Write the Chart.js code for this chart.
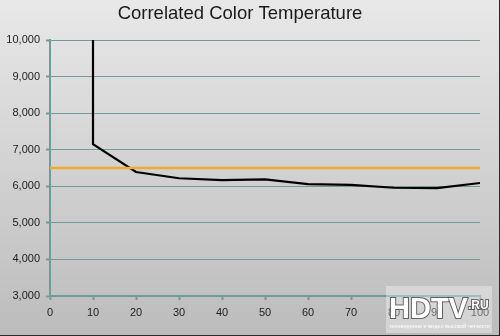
<!DOCTYPE html>
<html>
<head>
<meta charset="utf-8">
<script src="https://cdn.jsdelivr.net/npm/chart.js@4/dist/chart.umd.min.js"></script>
<style>
    html, body { margin: 0; padding: 0; }
    #wrap {
        width: 499px; height: 335px;
        background: linear-gradient(to bottom, #e8e8e8, #bcbcbc);
        border-right: 1px solid #2a2a2a;
        border-bottom: 1px solid #2a2a2a;
        position: relative;
    }
    canvas { display: block; }
</style>
</head>
<body>
<div id="wrap"><canvas id="cctChart" width="499" height="335"></canvas></div>
<script>
const ireLevels = [10, 10, 20, 30, 40, 50, 60, 70, 80, 90, 100];
const cctValues = [10000, 7150, 6390, 6220, 6170, 6190, 6060, 6040, 5960, 5950, 6090];
const targetX = [0, 100];
const targetY = [6500, 6500];
const yTicks = [3000, 4000, 5000, 6000, 7000, 8000, 9000, 10000];

const gridColor = "#6f9c98";

// small watermark like the one in the corner of the source picture
const watermark = {
    id: "watermark",
    afterDraw(chart) {
        const c = chart.ctx;
        c.save();
        c.fillStyle = "rgba(255,255,255,0.35)";
        c.fillRect(386, 286, 106, 47);
        c.textBaseline = "alphabetic";
        c.lineWidth = 2;
        c.strokeStyle = "rgba(70,70,70,0.8)";
        c.fillStyle = "#ffffff";
        c.font = "bold 29px 'Liberation Sans', Arial, sans-serif";
        c.strokeText("HDTV", 389, 318);
        c.fillText("HDTV", 389, 318);
        let w = c.measureText("HDTV").width;
        c.font = "bold 12px 'Liberation Sans', Arial, sans-serif";
        c.strokeText(".RU", 389 + w, 309);
        c.fillText(".RU", 389 + w, 309);
        c.font = "5.5px 'Liberation Sans', Arial, sans-serif";
        c.fillText("телевидение и видео высокой четкости", 389, 328);
        c.restore();
    }
};

document.addEventListener("DOMContentLoaded", function() {
    const ctx = document.getElementById("cctChart").getContext("2d");

    new Chart(ctx, {
        type: "scatter",
        data: {
            datasets: [{
                data: targetX.map((x, i) => ({ x: x, y: targetY[i] })),
                showLine: true,
                borderColor: "#f0aa2e",
                borderWidth: 2.5,
                pointRadius: 0
            }, {
                data: ireLevels.map((x, i) => ({ x: x, y: cctValues[i] })),
                showLine: true,
                borderColor: "#000000",
                borderWidth: 2.2,
                pointRadius: 0
            }]
        },
        options: {
            responsive: false,
            animation: false,
            layout: { padding: { left: 0, right: 19, top: 0, bottom: 0 } },
            plugins: {
                legend: { display: false },
                tooltip: { enabled: false },
                title: {
                    display: true,
                    text: "Correlated Color Temperature",
                    color: "#1a1a1a",
                    font: { family: "'Liberation Sans', Arial, sans-serif", size: 18.5, weight: "normal" },
                    padding: { top: 3, bottom: 14.8 }
                }
            },
            scales: {
                x: {
                    type: "linear",
                    min: 0,
                    max: 100,
                    ticks: {
                        stepSize: 10,
                        color: "#222",
                        padding: 6,
                        font: { family: "'Liberation Sans', Arial, sans-serif", size: 11 }
                    },
                    grid: { display: true, drawOnChartArea: false, color: gridColor, tickLength: 4, tickWidth: 2 },
                    border: { color: gridColor, width: 2 },
                    afterFit: function(scale) { scale.height = 39; }
                },
                y: {
                    min: 3000,
                    max: 10000,
                    afterBuildTicks: function(scale) { scale.ticks = yTicks.map(v => ({ value: v })); },
                    ticks: {
                        color: "#222",
                        padding: 6,
                        font: { family: "'Liberation Sans', Arial, sans-serif", size: 11 },
                        callback: v => v.toLocaleString("en-US")
                    },
                    grid: { color: gridColor, lineWidth: 1, tickLength: 4, tickWidth: 2 },
                    border: { color: gridColor, width: 2 },
                    afterFit: function(scale) { scale.width = 50; }
                }
            }
        },
        plugins: [watermark]
    });
});
</script>
</body>
</html>
